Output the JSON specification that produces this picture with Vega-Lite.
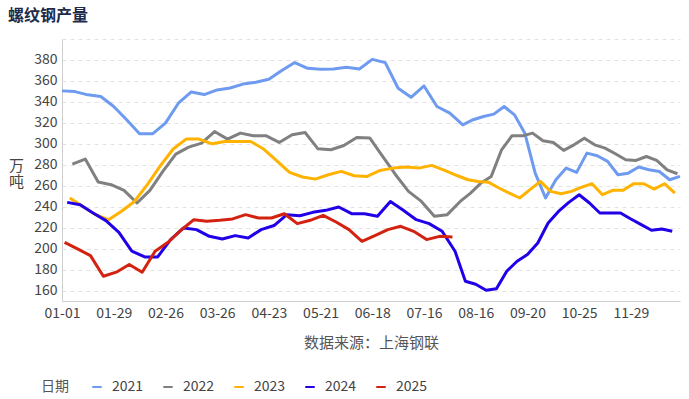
{
  "$schema": "https://vega.github.io/schema/vega-lite/v6.json",
  "width": 618,
  "height": 262,
  "autosize": {"type": "none"},
  "padding": {"left": 62, "top": 39, "right": 9, "bottom": 98},
  "background": "white",
  "title": {"text": "螺纹钢产量", "anchor": "start", "frame": "group", "dx": -54, "offset": 15, "fontSize": 16, "fontWeight": "bold", "color": "#1c2b4c", "font": "Noto Sans CJK SC"},
  "config": {"view": {"stroke": null}, "font": "Noto Sans CJK SC"},
  "data": {"values": [
{"date":"01-01","year":"2021","value":350.5},{"date":"01-08","year":"2021","value":349.8},{"date":"01-15","year":"2021","value":346.7},{"date":"01-22","year":"2021","value":345.1},{"date":"01-29","year":"2021","value":335.6},{"date":"02-05","year":"2021","value":322.9},{"date":"02-12","year":"2021","value":309.5},{"date":"02-19","year":"2021","value":309.5},{"date":"02-26","year":"2021","value":319.7},{"date":"03-05","year":"2021","value":338.7},{"date":"03-12","year":"2021","value":349.5},{"date":"03-19","year":"2021","value":347},{"date":"03-26","year":"2021","value":351.4},{"date":"04-02","year":"2021","value":353.3},{"date":"04-09","year":"2021","value":357},{"date":"04-16","year":"2021","value":358.7},{"date":"04-23","year":"2021","value":361.6},{"date":"04-30","year":"2021","value":370},{"date":"05-07","year":"2021","value":377.5},{"date":"05-14","year":"2021","value":372},{"date":"05-21","year":"2021","value":371.1},{"date":"05-28","year":"2021","value":371.4},{"date":"06-04","year":"2021","value":373},{"date":"06-11","year":"2021","value":371.4},{"date":"06-18","year":"2021","value":380.6},{"date":"06-25","year":"2021","value":377.5},{"date":"07-02","year":"2021","value":353},{"date":"07-09","year":"2021","value":344.4},{"date":"07-16","year":"2021","value":355.2},{"date":"07-23","year":"2021","value":335.6},{"date":"07-30","year":"2021","value":329.2},{"date":"08-06","year":"2021","value":318.1},{"date":"08-13","year":"2021","value":323},{"date":"08-20","year":"2021","value":326},{"date":"08-27","year":"2021","value":328.3},{"date":"09-03","year":"2021","value":335.6},{"date":"09-10","year":"2021","value":327.6},{"date":"09-17","year":"2021","value":310},{"date":"09-24","year":"2021","value":272},{"date":"10-01","year":"2021","value":248.3},{"date":"10-08","year":"2021","value":265.7},{"date":"10-15","year":"2021","value":276.8},{"date":"10-22","year":"2021","value":272.7},{"date":"10-29","year":"2021","value":291.1},{"date":"11-05","year":"2021","value":288.6},{"date":"11-12","year":"2021","value":283.2},{"date":"11-19","year":"2021","value":270.5},{"date":"11-26","year":"2021","value":272},{"date":"12-03","year":"2021","value":277.8},{"date":"12-10","year":"2021","value":275.2},{"date":"12-17","year":"2021","value":273.6},{"date":"12-24","year":"2021","value":265.7},{"date":"12-31","year":"2021","value":268.9},
{"date":"01-07","year":"2022","value":280.6},{"date":"01-14","year":"2022","value":285.4},{"date":"01-21","year":"2022","value":263.5},{"date":"01-28","year":"2022","value":261},{"date":"02-04","year":"2022","value":255.6},{"date":"02-11","year":"2022","value":243.5},{"date":"02-18","year":"2022","value":255.6},{"date":"02-25","year":"2022","value":273.6},{"date":"03-04","year":"2022","value":290.2},{"date":"03-11","year":"2022","value":296.8},{"date":"03-18","year":"2022","value":300.6},{"date":"03-25","year":"2022","value":311.7},{"date":"04-01","year":"2022","value":304.5},{"date":"04-08","year":"2022","value":310.2},{"date":"04-15","year":"2022","value":307.6},{"date":"04-22","year":"2022","value":307.6},{"date":"04-29","year":"2022","value":301.3},{"date":"05-06","year":"2022","value":308.6},{"date":"05-13","year":"2022","value":310.8},{"date":"05-20","year":"2022","value":295.2},{"date":"05-27","year":"2022","value":294.3},{"date":"06-03","year":"2022","value":298.4},{"date":"06-10","year":"2022","value":306},{"date":"06-17","year":"2022","value":305.6},{"date":"06-24","year":"2022","value":287.9},{"date":"07-01","year":"2022","value":270.5},{"date":"07-08","year":"2022","value":254.6},{"date":"07-15","year":"2022","value":245},{"date":"07-22","year":"2022","value":230.8},{"date":"07-29","year":"2022","value":232.4},{"date":"08-05","year":"2022","value":245},{"date":"08-12","year":"2022","value":253},{"date":"08-19","year":"2022","value":262.5},{"date":"08-26","year":"2022","value":268.9},{"date":"09-02","year":"2022","value":294.3},{"date":"09-09","year":"2022","value":307.6},{"date":"09-16","year":"2022","value":307.6},{"date":"09-23","year":"2022","value":310.2},{"date":"09-30","year":"2022","value":302.9},{"date":"10-07","year":"2022","value":301.3},{"date":"10-14","year":"2022","value":293.7},{"date":"10-21","year":"2022","value":299},{"date":"10-28","year":"2022","value":305.4},{"date":"11-04","year":"2022","value":299},{"date":"11-11","year":"2022","value":295.9},{"date":"11-18","year":"2022","value":290.5},{"date":"11-25","year":"2022","value":284.8},{"date":"12-02","year":"2022","value":284.1},{"date":"12-09","year":"2022","value":287.9},{"date":"12-16","year":"2022","value":284.1},{"date":"12-23","year":"2022","value":275.2},{"date":"12-30","year":"2022","value":271.4},
{"date":"01-06","year":"2023","value":248.3},{"date":"01-13","year":"2023","value":240.3},{"date":"01-20","year":"2023","value":232.4},{"date":"01-27","year":"2023","value":227.6},{"date":"02-03","year":"2023","value":235.6},{"date":"02-10","year":"2023","value":245},{"date":"02-17","year":"2023","value":261},{"date":"02-24","year":"2023","value":279},{"date":"03-03","year":"2023","value":295},{"date":"03-10","year":"2023","value":304.5},{"date":"03-17","year":"2023","value":304.5},{"date":"03-24","year":"2023","value":300},{"date":"03-31","year":"2023","value":302.2},{"date":"04-07","year":"2023","value":302.2},{"date":"04-14","year":"2023","value":302.2},{"date":"04-21","year":"2023","value":295},{"date":"04-28","year":"2023","value":284},{"date":"05-05","year":"2023","value":272.7},{"date":"05-12","year":"2023","value":268.3},{"date":"05-19","year":"2023","value":266.3},{"date":"05-26","year":"2023","value":270.5},{"date":"06-02","year":"2023","value":273.7},{"date":"06-09","year":"2023","value":269.5},{"date":"06-16","year":"2023","value":268.9},{"date":"06-23","year":"2023","value":274.6},{"date":"06-30","year":"2023","value":276.8},{"date":"07-07","year":"2023","value":277.8},{"date":"07-14","year":"2023","value":276.8},{"date":"07-21","year":"2023","value":279.4},{"date":"07-28","year":"2023","value":274.6},{"date":"08-04","year":"2023","value":269.5},{"date":"08-11","year":"2023","value":265.7},{"date":"08-18","year":"2023","value":264.1},{"date":"08-25","year":"2023","value":263.2},{"date":"09-01","year":"2023","value":257.8},{"date":"09-08","year":"2023","value":253},{"date":"09-15","year":"2023","value":248.3},{"date":"09-22","year":"2023","value":256.2},{"date":"09-29","year":"2023","value":264.1},{"date":"10-06","year":"2023","value":254.6},{"date":"10-13","year":"2023","value":252.4},{"date":"10-20","year":"2023","value":254.6},{"date":"10-27","year":"2023","value":258.7},{"date":"11-03","year":"2023","value":261.9},{"date":"11-10","year":"2023","value":251.4},{"date":"11-17","year":"2023","value":255.6},{"date":"11-24","year":"2023","value":255.6},{"date":"12-01","year":"2023","value":261.9},{"date":"12-08","year":"2023","value":261.9},{"date":"12-15","year":"2023","value":256.8},{"date":"12-22","year":"2023","value":261.9},{"date":"12-29","year":"2023","value":253},
{"date":"01-05","year":"2024","value":244.1},{"date":"01-12","year":"2024","value":241.9},{"date":"01-19","year":"2024","value":234},{"date":"01-26","year":"2024","value":226.7},{"date":"02-02","year":"2024","value":215.5},{"date":"02-09","year":"2024","value":197.5},{"date":"02-16","year":"2024","value":192.1},{"date":"02-23","year":"2024","value":192.1},{"date":"03-01","year":"2024","value":208.6},{"date":"03-08","year":"2024","value":219.7},{"date":"03-15","year":"2024","value":218.1},{"date":"03-22","year":"2024","value":211.7},{"date":"03-29","year":"2024","value":209.2},{"date":"04-05","year":"2024","value":212.4},{"date":"04-12","year":"2024","value":210.2},{"date":"04-19","year":"2024","value":218.1},{"date":"04-26","year":"2024","value":222},{"date":"05-03","year":"2024","value":232.4},{"date":"05-10","year":"2024","value":231.4},{"date":"05-17","year":"2024","value":234.6},{"date":"05-24","year":"2024","value":236.5},{"date":"05-31","year":"2024","value":239.7},{"date":"06-07","year":"2024","value":233.3},{"date":"06-14","year":"2024","value":233.3},{"date":"06-21","year":"2024","value":230.8},{"date":"06-28","year":"2024","value":245},{"date":"07-05","year":"2024","value":236.5},{"date":"07-12","year":"2024","value":227.6},{"date":"07-19","year":"2024","value":223.8},{"date":"07-26","year":"2024","value":216.5},{"date":"08-02","year":"2024","value":197.5},{"date":"08-09","year":"2024","value":168.9},{"date":"08-16","year":"2024","value":166},{"date":"08-23","year":"2024","value":160.3},{"date":"08-30","year":"2024","value":161.6},{"date":"09-06","year":"2024","value":178.4},{"date":"09-13","year":"2024","value":187.9},{"date":"09-20","year":"2024","value":194.3},{"date":"09-27","year":"2024","value":205.4},{"date":"10-04","year":"2024","value":224.4},{"date":"10-11","year":"2024","value":235.5},{"date":"10-18","year":"2024","value":244.1},{"date":"10-25","year":"2024","value":251.4},{"date":"11-01","year":"2024","value":243.5},{"date":"11-08","year":"2024","value":234},{"date":"11-15","year":"2024","value":234},{"date":"11-22","year":"2024","value":234},{"date":"11-29","year":"2024","value":228.3},{"date":"12-06","year":"2024","value":222.9},{"date":"12-13","year":"2024","value":217.5},{"date":"12-20","year":"2024","value":218.7},{"date":"12-27","year":"2024","value":216.5},
{"date":"01-03","year":"2025","value":206},{"date":"01-10","year":"2025","value":199.7},{"date":"01-17","year":"2025","value":193.3},{"date":"01-24","year":"2025","value":173.6},{"date":"01-31","year":"2025","value":177.5},{"date":"02-07","year":"2025","value":184.8},{"date":"02-14","year":"2025","value":177.5},{"date":"02-21","year":"2025","value":197.5},{"date":"02-28","year":"2025","value":206},{"date":"03-07","year":"2025","value":217.5},{"date":"03-14","year":"2025","value":227.6},{"date":"03-21","year":"2025","value":226},{"date":"03-28","year":"2025","value":227},{"date":"04-04","year":"2025","value":228.3},{"date":"04-11","year":"2025","value":232.4},{"date":"04-18","year":"2025","value":229.2},{"date":"04-25","year":"2025","value":229.2},{"date":"05-02","year":"2025","value":233.3},{"date":"05-09","year":"2025","value":223.8},{"date":"05-16","year":"2025","value":227},{"date":"05-23","year":"2025","value":231.7},{"date":"05-30","year":"2025","value":225.4},{"date":"06-06","year":"2025","value":218.1},{"date":"06-13","year":"2025","value":207},{"date":"06-20","year":"2025","value":212.4},{"date":"06-27","year":"2025","value":218.1},{"date":"07-04","year":"2025","value":221.3},{"date":"07-11","year":"2025","value":216.5},{"date":"07-18","year":"2025","value":208.6},{"date":"07-25","year":"2025","value":211.7},{"date":"08-01","year":"2025","value":211.1}
  ]},
  "mark": {"type": "line", "strokeWidth": 3, "strokeJoin": "round"},
  "encoding": {
    "x": {
      "field": "date", "type": "ordinal", "sort": "ascending",
      "scale": {"type": "point", "padding": 0},
      "axis": {
        "values": ["01-01","01-29","02-26","03-26","04-23","05-21","06-18","07-16","08-16","09-20","10-25","11-29"],
        "labelAngle": 0, "ticks": false, "grid": false,
        "domainColor": "#cfcfcf", "domainWidth": 1,
        "labelFontSize": 14, "labelColor": "#444444", "labelPadding": 5, "labelFont": "Noto Sans CJK SC",
        "title": "数据来源：上海钢联", "titleFontSize": 15, "titleFontWeight": "normal", "titleColor": "#555555", "titlePadding": 15, "titleFont": "Noto Sans CJK SC"
      }
    },
    "y": {
      "field": "value", "type": "quantitative",
      "scale": {"domain": [150, 400], "nice": false, "zero": false},
      "axis": {
        "values": [160,180,200,220,240,260,280,300,320,340,360,380,400],
        "labelExpr": "datum.value == 400 ? '' : datum.label",
        "ticks": false, "grid": true, "gridColor": "#e3e3e3", "gridDash": [4, 4], "gridWidth": 1,
        "domainColor": "#cfcfcf", "domainWidth": 1,
        "labelFontSize": 14, "labelColor": "#444444", "labelPadding": 5, "labelFont": "Noto Sans CJK SC",
        "title": ["万", "吨"], "titleAngle": 0, "titleFontSize": 15, "titleFontWeight": "normal", "titleColor": "#444444",
        "titleX": -46, "titleY": 126, "titleAlign": "center", "titleBaseline": "middle", "titleLineHeight": 16, "titleFont": "Noto Sans CJK SC"
      }
    },
    "color": {
      "field": "year", "type": "nominal",
      "scale": {"domain": ["2021","2022","2023","2024","2025"], "range": ["#6e9bf0","#808080","#ffb300","#2000e8","#d42211"]},
      "legend": {
        "title": "日期", "orient": "none", "legendX": -21, "legendY": 341, "direction": "horizontal",
        "titleOrient": "left", "titleFontSize": 14, "titleFontWeight": "normal", "titleColor": "#555555", "titlePadding": 21, "titleFont": "Noto Sans CJK SC",
        "labelFontSize": 14, "labelColor": "#444444", "labelFont": "Noto Sans CJK SC", "labelOffset": 8,
        "symbolType": "stroke", "symbolStrokeWidth": 2, "symbolSize": 90, "columnPadding": 15
      }
    }
  }
}
